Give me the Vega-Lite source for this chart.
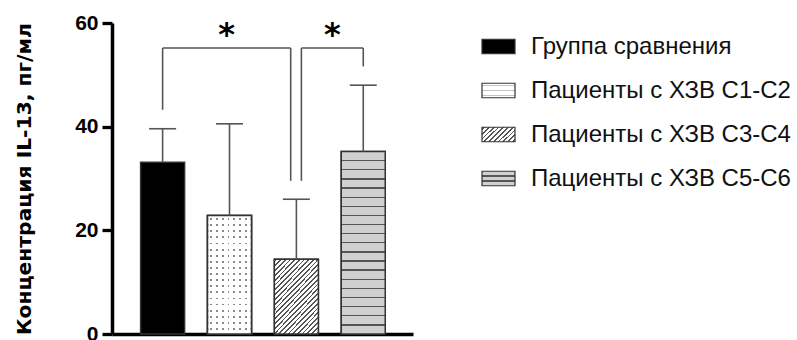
{
  "$schema": "https://vega.github.io/schema/vega-lite/v6.json",
  "width": 301,
  "height": 311,
  "autosize": {"type": "none"},
  "padding": {"left": 112, "top": 23, "right": 384, "bottom": 6},
  "background": "white",
  "config": {
    "view": {"stroke": null},
    "font": "Liberation Sans",
    "axisX": {"labels": false, "ticks": false, "grid": false, "domainWidth": 3.5, "domainColor": "#000000", "title": null},
    "axisY": {"grid": false, "domainWidth": 3.5, "domainColor": "#000000", "tickSize": 10, "tickWidth": 3.3, "tickColor": "#000000",
      "labelFontSize": 21, "labelFontWeight": "bold", "labelColor": "#000000", "labelPadding": 4, "labelFont": "Liberation Sans",
      "titleFontSize": 20.3, "titleFontWeight": "bold", "titleColor": "#000000", "titlePadding": 40, "titleFont": "DejaVu Sans"}
  },
  "params": [
    {"name": "gDots", "expr": "{gradient:'linear',x1:0,y1:0,x2:0,y2:1,stops:[{offset:0,color:'#ffffff'},{offset:0.14,color:'#ffffff'},{offset:0.14,color:'#c4c4c4'},{offset:0.2,color:'#c4c4c4'},{offset:0.2,color:'#ffffff'},{offset:0.46,color:'#ffffff'},{offset:0.46,color:'#c4c4c4'},{offset:0.54,color:'#c4c4c4'},{offset:0.54,color:'#ffffff'},{offset:0.8,color:'#ffffff'},{offset:0.8,color:'#c4c4c4'},{offset:0.86,color:'#c4c4c4'},{offset:0.86,color:'#ffffff'},{offset:1,color:'#ffffff'}]}"},
    {"name": "gHatch", "expr": "{gradient:'linear',x1:0,y1:0,x2:1.206,y2:0.545,stops:[{offset:0,color:'#ffffff'},{offset:0.031,color:'#ffffff'},{offset:0.031,color:'#555555'},{offset:0.069,color:'#555555'},{offset:0.069,color:'#ffffff'},{offset:0.131,color:'#ffffff'},{offset:0.131,color:'#555555'},{offset:0.169,color:'#555555'},{offset:0.169,color:'#ffffff'},{offset:0.231,color:'#ffffff'},{offset:0.231,color:'#555555'},{offset:0.269,color:'#555555'},{offset:0.269,color:'#ffffff'},{offset:0.331,color:'#ffffff'},{offset:0.331,color:'#555555'},{offset:0.369,color:'#555555'},{offset:0.369,color:'#ffffff'},{offset:0.431,color:'#ffffff'},{offset:0.431,color:'#555555'},{offset:0.469,color:'#555555'},{offset:0.469,color:'#ffffff'},{offset:0.531,color:'#ffffff'},{offset:0.531,color:'#555555'},{offset:0.569,color:'#555555'},{offset:0.569,color:'#ffffff'},{offset:0.631,color:'#ffffff'},{offset:0.631,color:'#555555'},{offset:0.669,color:'#555555'},{offset:0.669,color:'#ffffff'},{offset:0.731,color:'#ffffff'},{offset:0.731,color:'#555555'},{offset:0.769,color:'#555555'},{offset:0.769,color:'#ffffff'},{offset:0.831,color:'#ffffff'},{offset:0.831,color:'#555555'},{offset:0.869,color:'#555555'},{offset:0.869,color:'#ffffff'},{offset:0.931,color:'#ffffff'},{offset:0.931,color:'#555555'},{offset:0.969,color:'#555555'},{offset:0.969,color:'#ffffff'},{offset:1,color:'#ffffff'}]}"},
    {"name": "gStripes", "expr": "{gradient:'linear',x1:0,y1:0,x2:0,y2:1,stops:[{offset:0,color:'#d0d0d0'},{offset:0.293,color:'#d0d0d0'},{offset:0.293,color:'#555555'},{offset:0.373,color:'#555555'},{offset:0.373,color:'#d0d0d0'},{offset:0.627,color:'#d0d0d0'},{offset:0.627,color:'#555555'},{offset:0.707,color:'#555555'},{offset:0.707,color:'#d0d0d0'},{offset:1,color:'#d0d0d0'}]}"}
  ],
  "datasets": {
    "bars": [
      {"group": "Группа сравнения", "pos": 1, "mean": 33.15, "upper": 39.6},
      {"group": "Пациенты с ХЗВ С1-С2", "pos": 2, "mean": 22.85, "upper": 40.55},
      {"group": "Пациенты с ХЗВ С3-С4", "pos": 3, "mean": 14.42, "upper": 26.0},
      {"group": "Пациенты с ХЗВ С5-С6", "pos": 4, "mean": 35.2, "upper": 48.0}
    ],
    "brackets": [
      {"pair": 1, "x1": 1, "x2": 2.915, "top": 55.17, "left_end": 43.26, "right_end": 29.55, "label": "*"},
      {"pair": 2, "x1": 3.075, "x2": 4, "top": 55.17, "left_end": 29.55, "right_end": 51.62, "label": "*"}
    ]
  },
  "layer": [
    {
      "data": {"name": "bars"},
      "mark": {"type": "bar", "size": 44, "stroke": "#333333", "strokeWidth": 1.5},
      "encoding": {
        "x": {"field": "pos", "type": "quantitative", "scale": {"domain": [0.318, 4.669], "nice": false, "zero": false}, "title": null},
        "y": {"field": "mean", "type": "quantitative", "scale": {"domain": [0, 60], "nice": false},
          "title": "Концентрация IL-13, пг/мл", "axis": {"values": [0, 20, 40, 60]}},
        "fill": {"field": "pos", "type": "nominal", "scale": {"range": ["#000000", "#ffffff", "#ffffff", "#d0d0d0"]}, "legend": null},
        "opacity": {"field": "group", "type": "nominal",
          "scale": {"range": [1, 1, 1, 1]},
          "legend": {"orient": "none", "legendX": 369, "legendY": 6, "title": null, "padding": 0,
            "symbolType": "M-1,-0.44H1V0.44H-1Z", "symbolSize": 1089, "symbolStrokeColor": "#333333", "symbolStrokeWidth": 1.2, "symbolOpacity": 1,
            "symbolFillColor": {"expr": "datum.value == 'Группа сравнения' ? '#000000' : datum.value == 'Пациенты с ХЗВ С1-С2' ? gDots : datum.value == 'Пациенты с ХЗВ С3-С4' ? gHatch : gStripes"},
            "labelFont": "Liberation Sans", "labelFontSize": 24, "labelColor": "#111111", "labelOffset": 15, "labelLimit": 400, "rowPadding": 14}
        }
      }
    },
    {
      "data": {"name": "bars"},
      "transform": [{"filter": "datum.pos == 2"}],
      "mark": {"type": "bar", "size": 44, "stroke": "#333333", "strokeWidth": 1.5,
        "fill": {"gradient": "linear", "x1": 0, "y1": 0, "x2": 1, "y2": 0, "stops": [
          {"offset": 0, "color": "#ffffff"},
          {"offset": 0.06, "color": "#ffffff"}, {"offset": 0.06, "color": "#8a8a8a"}, {"offset": 0.1, "color": "#8a8a8a"}, {"offset": 0.1, "color": "#ffffff"},
          {"offset": 0.192, "color": "#ffffff"}, {"offset": 0.192, "color": "#8a8a8a"}, {"offset": 0.232, "color": "#8a8a8a"}, {"offset": 0.232, "color": "#ffffff"},
          {"offset": 0.324, "color": "#ffffff"}, {"offset": 0.324, "color": "#8a8a8a"}, {"offset": 0.364, "color": "#8a8a8a"}, {"offset": 0.364, "color": "#ffffff"},
          {"offset": 0.456, "color": "#ffffff"}, {"offset": 0.456, "color": "#8a8a8a"}, {"offset": 0.496, "color": "#8a8a8a"}, {"offset": 0.496, "color": "#ffffff"},
          {"offset": 0.588, "color": "#ffffff"}, {"offset": 0.588, "color": "#8a8a8a"}, {"offset": 0.628, "color": "#8a8a8a"}, {"offset": 0.628, "color": "#ffffff"},
          {"offset": 0.72, "color": "#ffffff"}, {"offset": 0.72, "color": "#8a8a8a"}, {"offset": 0.76, "color": "#8a8a8a"}, {"offset": 0.76, "color": "#ffffff"},
          {"offset": 0.852, "color": "#ffffff"}, {"offset": 0.852, "color": "#8a8a8a"}, {"offset": 0.892, "color": "#8a8a8a"}, {"offset": 0.892, "color": "#ffffff"},
          {"offset": 1, "color": "#ffffff"}]}},
      "encoding": {
        "x": {"field": "pos", "type": "quantitative", "scale": {"domain": [0.318, 4.669], "nice": false, "zero": false}},
        "y": {"field": "mean", "type": "quantitative", "scale": {"domain": [0, 60], "nice": false}}
      }
    },
    {
      "data": {"name": "bars"},
      "transform": [{"filter": "datum.pos == 2"}],
      "mark": {"type": "bar", "size": 44, "stroke": "#333333", "strokeWidth": 1.5,
        "fill": {"gradient": "linear", "x1": 0, "y1": 0, "x2": 0, "y2": 1, "stops": [
          {"offset": 0, "color": "#ffffff"},
          {"offset": 0.022, "color": "#ffffff"}, {"offset": 0.022, "color": "rgba(255,255,255,0)"}, {"offset": 0.0372, "color": "rgba(255,255,255,0)"}, {"offset": 0.0372, "color": "#ffffff"},
          {"offset": 0.0735, "color": "#ffffff"}, {"offset": 0.0735, "color": "rgba(255,255,255,0)"}, {"offset": 0.0887, "color": "rgba(255,255,255,0)"}, {"offset": 0.0887, "color": "#ffffff"},
          {"offset": 0.1251, "color": "#ffffff"}, {"offset": 0.1251, "color": "rgba(255,255,255,0)"}, {"offset": 0.1403, "color": "rgba(255,255,255,0)"}, {"offset": 0.1403, "color": "#ffffff"},
          {"offset": 0.1767, "color": "#ffffff"}, {"offset": 0.1767, "color": "rgba(255,255,255,0)"}, {"offset": 0.1919, "color": "rgba(255,255,255,0)"}, {"offset": 0.1919, "color": "#ffffff"},
          {"offset": 0.2282, "color": "#ffffff"}, {"offset": 0.2282, "color": "rgba(255,255,255,0)"}, {"offset": 0.2434, "color": "rgba(255,255,255,0)"}, {"offset": 0.2434, "color": "#ffffff"},
          {"offset": 0.2798, "color": "#ffffff"}, {"offset": 0.2798, "color": "rgba(255,255,255,0)"}, {"offset": 0.295, "color": "rgba(255,255,255,0)"}, {"offset": 0.295, "color": "#ffffff"},
          {"offset": 0.3314, "color": "#ffffff"}, {"offset": 0.3314, "color": "rgba(255,255,255,0)"}, {"offset": 0.3466, "color": "rgba(255,255,255,0)"}, {"offset": 0.3466, "color": "#ffffff"},
          {"offset": 0.3829, "color": "#ffffff"}, {"offset": 0.3829, "color": "rgba(255,255,255,0)"}, {"offset": 0.3981, "color": "rgba(255,255,255,0)"}, {"offset": 0.3981, "color": "#ffffff"},
          {"offset": 0.4345, "color": "#ffffff"}, {"offset": 0.4345, "color": "rgba(255,255,255,0)"}, {"offset": 0.4497, "color": "rgba(255,255,255,0)"}, {"offset": 0.4497, "color": "#ffffff"},
          {"offset": 0.4861, "color": "#ffffff"}, {"offset": 0.4861, "color": "rgba(255,255,255,0)"}, {"offset": 0.5013, "color": "rgba(255,255,255,0)"}, {"offset": 0.5013, "color": "#ffffff"},
          {"offset": 0.5376, "color": "#ffffff"}, {"offset": 0.5376, "color": "rgba(255,255,255,0)"}, {"offset": 0.5528, "color": "rgba(255,255,255,0)"}, {"offset": 0.5528, "color": "#ffffff"},
          {"offset": 0.5892, "color": "#ffffff"}, {"offset": 0.5892, "color": "rgba(255,255,255,0)"}, {"offset": 0.6044, "color": "rgba(255,255,255,0)"}, {"offset": 0.6044, "color": "#ffffff"},
          {"offset": 0.6408, "color": "#ffffff"}, {"offset": 0.6408, "color": "rgba(255,255,255,0)"}, {"offset": 0.656, "color": "rgba(255,255,255,0)"}, {"offset": 0.656, "color": "#ffffff"},
          {"offset": 0.6923, "color": "#ffffff"}, {"offset": 0.6923, "color": "rgba(255,255,255,0)"}, {"offset": 0.7075, "color": "rgba(255,255,255,0)"}, {"offset": 0.7075, "color": "#ffffff"},
          {"offset": 0.7439, "color": "#ffffff"}, {"offset": 0.7439, "color": "rgba(255,255,255,0)"}, {"offset": 0.7591, "color": "rgba(255,255,255,0)"}, {"offset": 0.7591, "color": "#ffffff"},
          {"offset": 0.7954, "color": "#ffffff"}, {"offset": 0.7954, "color": "rgba(255,255,255,0)"}, {"offset": 0.8106, "color": "rgba(255,255,255,0)"}, {"offset": 0.8106, "color": "#ffffff"},
          {"offset": 0.847, "color": "#ffffff"}, {"offset": 0.847, "color": "rgba(255,255,255,0)"}, {"offset": 0.8622, "color": "rgba(255,255,255,0)"}, {"offset": 0.8622, "color": "#ffffff"},
          {"offset": 0.8986, "color": "#ffffff"}, {"offset": 0.8986, "color": "rgba(255,255,255,0)"}, {"offset": 0.9138, "color": "rgba(255,255,255,0)"}, {"offset": 0.9138, "color": "#ffffff"},
          {"offset": 0.9501, "color": "#ffffff"}, {"offset": 0.9501, "color": "rgba(255,255,255,0)"}, {"offset": 0.9653, "color": "rgba(255,255,255,0)"}, {"offset": 0.9653, "color": "#ffffff"},
          {"offset": 1, "color": "#ffffff"}]}},
      "encoding": {
        "x": {"field": "pos", "type": "quantitative", "scale": {"domain": [0.318, 4.669], "nice": false, "zero": false}},
        "y": {"field": "mean", "type": "quantitative", "scale": {"domain": [0, 60], "nice": false}}
      }
    },
    {
      "data": {"name": "bars"},
      "transform": [{"filter": "datum.pos == 3"}],
      "mark": {"type": "bar", "size": 44, "stroke": "#333333", "strokeWidth": 1.5,
        "fill": {"gradient": "linear", "x1": 0, "y1": 0, "x2": 0.715, "y2": 1.174, "stops": [
          {"offset": 0, "color": "#ffffff"},
          {"offset": 0.0125, "color": "#ffffff"}, {"offset": 0.0125, "color": "#555555"}, {"offset": 0.0275, "color": "#555555"}, {"offset": 0.0275, "color": "#ffffff"},
          {"offset": 0.0525, "color": "#ffffff"}, {"offset": 0.0525, "color": "#555555"}, {"offset": 0.0675, "color": "#555555"}, {"offset": 0.0675, "color": "#ffffff"},
          {"offset": 0.0925, "color": "#ffffff"}, {"offset": 0.0925, "color": "#555555"}, {"offset": 0.1075, "color": "#555555"}, {"offset": 0.1075, "color": "#ffffff"},
          {"offset": 0.1325, "color": "#ffffff"}, {"offset": 0.1325, "color": "#555555"}, {"offset": 0.1475, "color": "#555555"}, {"offset": 0.1475, "color": "#ffffff"},
          {"offset": 0.1725, "color": "#ffffff"}, {"offset": 0.1725, "color": "#555555"}, {"offset": 0.1875, "color": "#555555"}, {"offset": 0.1875, "color": "#ffffff"},
          {"offset": 0.2125, "color": "#ffffff"}, {"offset": 0.2125, "color": "#555555"}, {"offset": 0.2275, "color": "#555555"}, {"offset": 0.2275, "color": "#ffffff"},
          {"offset": 0.2525, "color": "#ffffff"}, {"offset": 0.2525, "color": "#555555"}, {"offset": 0.2675, "color": "#555555"}, {"offset": 0.2675, "color": "#ffffff"},
          {"offset": 0.2925, "color": "#ffffff"}, {"offset": 0.2925, "color": "#555555"}, {"offset": 0.3075, "color": "#555555"}, {"offset": 0.3075, "color": "#ffffff"},
          {"offset": 0.3325, "color": "#ffffff"}, {"offset": 0.3325, "color": "#555555"}, {"offset": 0.3475, "color": "#555555"}, {"offset": 0.3475, "color": "#ffffff"},
          {"offset": 0.3725, "color": "#ffffff"}, {"offset": 0.3725, "color": "#555555"}, {"offset": 0.3875, "color": "#555555"}, {"offset": 0.3875, "color": "#ffffff"},
          {"offset": 0.4125, "color": "#ffffff"}, {"offset": 0.4125, "color": "#555555"}, {"offset": 0.4275, "color": "#555555"}, {"offset": 0.4275, "color": "#ffffff"},
          {"offset": 0.4525, "color": "#ffffff"}, {"offset": 0.4525, "color": "#555555"}, {"offset": 0.4675, "color": "#555555"}, {"offset": 0.4675, "color": "#ffffff"},
          {"offset": 0.4925, "color": "#ffffff"}, {"offset": 0.4925, "color": "#555555"}, {"offset": 0.5075, "color": "#555555"}, {"offset": 0.5075, "color": "#ffffff"},
          {"offset": 0.5325, "color": "#ffffff"}, {"offset": 0.5325, "color": "#555555"}, {"offset": 0.5475, "color": "#555555"}, {"offset": 0.5475, "color": "#ffffff"},
          {"offset": 0.5725, "color": "#ffffff"}, {"offset": 0.5725, "color": "#555555"}, {"offset": 0.5875, "color": "#555555"}, {"offset": 0.5875, "color": "#ffffff"},
          {"offset": 0.6125, "color": "#ffffff"}, {"offset": 0.6125, "color": "#555555"}, {"offset": 0.6275, "color": "#555555"}, {"offset": 0.6275, "color": "#ffffff"},
          {"offset": 0.6525, "color": "#ffffff"}, {"offset": 0.6525, "color": "#555555"}, {"offset": 0.6675, "color": "#555555"}, {"offset": 0.6675, "color": "#ffffff"},
          {"offset": 0.6925, "color": "#ffffff"}, {"offset": 0.6925, "color": "#555555"}, {"offset": 0.7075, "color": "#555555"}, {"offset": 0.7075, "color": "#ffffff"},
          {"offset": 0.7325, "color": "#ffffff"}, {"offset": 0.7325, "color": "#555555"}, {"offset": 0.7475, "color": "#555555"}, {"offset": 0.7475, "color": "#ffffff"},
          {"offset": 0.7725, "color": "#ffffff"}, {"offset": 0.7725, "color": "#555555"}, {"offset": 0.7875, "color": "#555555"}, {"offset": 0.7875, "color": "#ffffff"},
          {"offset": 0.8125, "color": "#ffffff"}, {"offset": 0.8125, "color": "#555555"}, {"offset": 0.8275, "color": "#555555"}, {"offset": 0.8275, "color": "#ffffff"},
          {"offset": 0.8525, "color": "#ffffff"}, {"offset": 0.8525, "color": "#555555"}, {"offset": 0.8675, "color": "#555555"}, {"offset": 0.8675, "color": "#ffffff"},
          {"offset": 0.8925, "color": "#ffffff"}, {"offset": 0.8925, "color": "#555555"}, {"offset": 0.9075, "color": "#555555"}, {"offset": 0.9075, "color": "#ffffff"},
          {"offset": 0.9325, "color": "#ffffff"}, {"offset": 0.9325, "color": "#555555"}, {"offset": 0.9475, "color": "#555555"}, {"offset": 0.9475, "color": "#ffffff"},
          {"offset": 0.9725, "color": "#ffffff"}, {"offset": 0.9725, "color": "#555555"}, {"offset": 0.9875, "color": "#555555"}, {"offset": 0.9875, "color": "#ffffff"},
          {"offset": 1, "color": "#ffffff"}]}},
      "encoding": {
        "x": {"field": "pos", "type": "quantitative", "scale": {"domain": [0.318, 4.669], "nice": false, "zero": false}},
        "y": {"field": "mean", "type": "quantitative", "scale": {"domain": [0, 60], "nice": false}}
      }
    },
    {
      "data": {"name": "bars"},
      "transform": [{"filter": "datum.pos == 4"}],
      "mark": {"type": "bar", "size": 44, "stroke": "#333333", "strokeWidth": 1.5,
        "fill": {"gradient": "linear", "x1": 0, "y1": 0, "x2": 0, "y2": 1, "stops": [
          {"offset": 0, "color": "#d0d0d0"},
          {"offset": 0.0464, "color": "#d0d0d0"}, {"offset": 0.0464, "color": "#555555"}, {"offset": 0.0536, "color": "#555555"}, {"offset": 0.0536, "color": "#d0d0d0"},
          {"offset": 0.0964, "color": "#d0d0d0"}, {"offset": 0.0964, "color": "#555555"}, {"offset": 0.1036, "color": "#555555"}, {"offset": 0.1036, "color": "#d0d0d0"},
          {"offset": 0.1464, "color": "#d0d0d0"}, {"offset": 0.1464, "color": "#555555"}, {"offset": 0.1536, "color": "#555555"}, {"offset": 0.1536, "color": "#d0d0d0"},
          {"offset": 0.1964, "color": "#d0d0d0"}, {"offset": 0.1964, "color": "#555555"}, {"offset": 0.2036, "color": "#555555"}, {"offset": 0.2036, "color": "#d0d0d0"},
          {"offset": 0.2464, "color": "#d0d0d0"}, {"offset": 0.2464, "color": "#555555"}, {"offset": 0.2536, "color": "#555555"}, {"offset": 0.2536, "color": "#d0d0d0"},
          {"offset": 0.2964, "color": "#d0d0d0"}, {"offset": 0.2964, "color": "#555555"}, {"offset": 0.3036, "color": "#555555"}, {"offset": 0.3036, "color": "#d0d0d0"},
          {"offset": 0.3464, "color": "#d0d0d0"}, {"offset": 0.3464, "color": "#555555"}, {"offset": 0.3536, "color": "#555555"}, {"offset": 0.3536, "color": "#d0d0d0"},
          {"offset": 0.3964, "color": "#d0d0d0"}, {"offset": 0.3964, "color": "#555555"}, {"offset": 0.4036, "color": "#555555"}, {"offset": 0.4036, "color": "#d0d0d0"},
          {"offset": 0.4464, "color": "#d0d0d0"}, {"offset": 0.4464, "color": "#555555"}, {"offset": 0.4536, "color": "#555555"}, {"offset": 0.4536, "color": "#d0d0d0"},
          {"offset": 0.4964, "color": "#d0d0d0"}, {"offset": 0.4964, "color": "#555555"}, {"offset": 0.5036, "color": "#555555"}, {"offset": 0.5036, "color": "#d0d0d0"},
          {"offset": 0.5464, "color": "#d0d0d0"}, {"offset": 0.5464, "color": "#555555"}, {"offset": 0.5536, "color": "#555555"}, {"offset": 0.5536, "color": "#d0d0d0"},
          {"offset": 0.5964, "color": "#d0d0d0"}, {"offset": 0.5964, "color": "#555555"}, {"offset": 0.6036, "color": "#555555"}, {"offset": 0.6036, "color": "#d0d0d0"},
          {"offset": 0.6464, "color": "#d0d0d0"}, {"offset": 0.6464, "color": "#555555"}, {"offset": 0.6536, "color": "#555555"}, {"offset": 0.6536, "color": "#d0d0d0"},
          {"offset": 0.6964, "color": "#d0d0d0"}, {"offset": 0.6964, "color": "#555555"}, {"offset": 0.7036, "color": "#555555"}, {"offset": 0.7036, "color": "#d0d0d0"},
          {"offset": 0.7464, "color": "#d0d0d0"}, {"offset": 0.7464, "color": "#555555"}, {"offset": 0.7536, "color": "#555555"}, {"offset": 0.7536, "color": "#d0d0d0"},
          {"offset": 0.7964, "color": "#d0d0d0"}, {"offset": 0.7964, "color": "#555555"}, {"offset": 0.8036, "color": "#555555"}, {"offset": 0.8036, "color": "#d0d0d0"},
          {"offset": 0.8464, "color": "#d0d0d0"}, {"offset": 0.8464, "color": "#555555"}, {"offset": 0.8536, "color": "#555555"}, {"offset": 0.8536, "color": "#d0d0d0"},
          {"offset": 0.8964, "color": "#d0d0d0"}, {"offset": 0.8964, "color": "#555555"}, {"offset": 0.9036, "color": "#555555"}, {"offset": 0.9036, "color": "#d0d0d0"},
          {"offset": 0.9464, "color": "#d0d0d0"}, {"offset": 0.9464, "color": "#555555"}, {"offset": 0.9536, "color": "#555555"}, {"offset": 0.9536, "color": "#d0d0d0"},
          {"offset": 1, "color": "#d0d0d0"}]}},
      "encoding": {
        "x": {"field": "pos", "type": "quantitative", "scale": {"domain": [0.318, 4.669], "nice": false, "zero": false}},
        "y": {"field": "mean", "type": "quantitative", "scale": {"domain": [0, 60], "nice": false}}
      }
    },
    {
      "data": {"name": "bars"},
      "mark": {"type": "rule", "color": "#555555", "strokeWidth": 1.6},
      "encoding": {
        "x": {"field": "pos", "type": "quantitative", "scale": {"domain": [0.318, 4.669], "nice": false, "zero": false}},
        "y": {"field": "mean", "type": "quantitative", "scale": {"domain": [0, 60], "nice": false}},
        "y2": {"field": "upper"}
      }
    },
    {
      "data": {"name": "bars"},
      "mark": {"type": "tick", "orient": "horizontal", "color": "#555555", "size": 27, "thickness": 1.6, "opacity": 1},
      "encoding": {
        "x": {"field": "pos", "type": "quantitative", "scale": {"domain": [0.318, 4.669], "nice": false, "zero": false}},
        "y": {"field": "upper", "type": "quantitative", "scale": {"domain": [0, 60], "nice": false}}
      }
    },
    {
      "data": {"name": "brackets"},
      "layer": [
        {
          "mark": {"type": "rule", "color": "#555555", "strokeWidth": 1.6},
          "encoding": {
            "x": {"field": "x1", "type": "quantitative", "scale": {"domain": [0.318, 4.669], "nice": false, "zero": false}},
            "x2": {"field": "x2"},
            "y": {"field": "top", "type": "quantitative", "scale": {"domain": [0, 60], "nice": false}}
          }
        },
        {
          "mark": {"type": "rule", "color": "#555555", "strokeWidth": 1.6},
          "encoding": {
            "x": {"field": "x1", "type": "quantitative", "scale": {"domain": [0.318, 4.669], "nice": false, "zero": false}},
            "y": {"field": "top", "type": "quantitative", "scale": {"domain": [0, 60], "nice": false}},
            "y2": {"field": "left_end"}
          }
        },
        {
          "mark": {"type": "rule", "color": "#555555", "strokeWidth": 1.6},
          "encoding": {
            "x": {"field": "x2", "type": "quantitative", "scale": {"domain": [0.318, 4.669], "nice": false, "zero": false}},
            "y": {"field": "top", "type": "quantitative", "scale": {"domain": [0, 60], "nice": false}},
            "y2": {"field": "right_end"}
          }
        },
        {
          "transform": [{"calculate": "(datum.x1 + datum.x2) / 2", "as": "mid"}],
          "mark": {"type": "text", "font": "DejaVu Sans", "fontWeight": "bold", "fontSize": 32, "color": "#000000", "baseline": "alphabetic", "align": "center", "dy": -3},
          "encoding": {
            "x": {"field": "mid", "type": "quantitative", "scale": {"domain": [0.318, 4.669], "nice": false, "zero": false}},
            "y": {"field": "top", "type": "quantitative", "scale": {"domain": [0, 60], "nice": false}},
            "text": {"field": "label"}
          }
        }
      ]
    }
  ]
}
